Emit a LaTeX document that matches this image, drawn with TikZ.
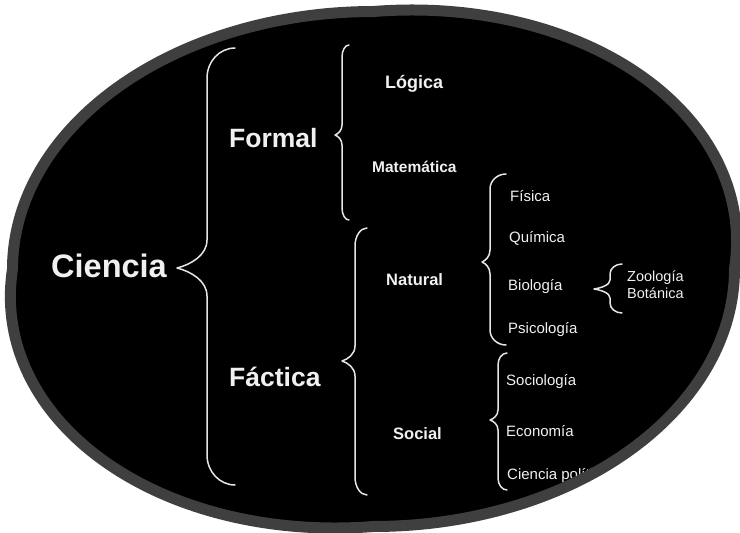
\documentclass[tikz,border=0pt]{standalone}
\usepackage{fontspec}
\setmainfont{Liberation Sans}
\definecolor{rimgray}{HTML}{3F3F3F}
\definecolor{txtwhite}{HTML}{F0F0F0}
\definecolor{bracewhite}{HTML}{E6E6E6}
\tikzset{
  bracestyle/.style={draw=bracewhite, line width=1.5pt, line cap=round, line join=round},
  ovalpath/.style={insert path={plot[domain=0:359, samples=360, variable=\t]
     ({373.5+361*cos(\t)*(1+0.055*max(0,-sin(2*\t)))},
      {269+257.5*sin(\t)*(1+0.055*max(0,-sin(2*\t)))}) -- cycle}},
  lbl/.style={text=txtwhite, anchor=base west, inner sep=0pt},
  lvlone/.style={lbl, font=\fontsize{32.5}{32.5}\selectfont\bfseries},
  lvltwo/.style={lbl, font=\fontsize{26.5}{26.5}\selectfont\bfseries},
  lvlthree/.style={lbl, font=\fontsize{16.5}{16.5}\selectfont\bfseries},
  lvlfour/.style={lbl, font=\fontsize{15}{15}\selectfont},
  lvlfive/.style={lbl, font=\fontsize{14.5}{14.5}\selectfont},
}
% xe, yt, yb, xv, xt, ym, r_end, r_tip
\newcommand{\curlybr}[8]{%
  \draw[bracestyle] (#1,#2) .. controls ({#1+0.552*(#4-#1)},#2) and (#4,{#2+0.448*#7}) .. (#4,{#2+#7})
    -- (#4,{#6-#8}) .. controls (#4,{#6-0.45*#8}) and ({#5+0.45*(#4-#5)},{#6-0.12*#8}) .. (#5,#6)
    .. controls ({#5+0.45*(#4-#5)},{#6+0.12*#8}) and (#4,{#6+0.45*#8}) .. (#4,{#6+#8})
    -- (#4,{#3-#7}) .. controls (#4,{#3-0.448*#7}) and ({#1+0.552*(#4-#1)},#3) .. (#1,#3);}
\begin{document}
\begin{tikzpicture}[x=1pt,y=-1pt]
\useasboundingbox (0,0) rectangle (740,533);
\fill[white] (0,0) rectangle (740,533);
\fill[black] [ovalpath];
\begin{scope}
\clip [ovalpath];
\node[lvlone] (ciencia) at (51,277) {Ciencia};
\node[lvltwo] (formal) at (229,147) {Formal};
\node[lvltwo] (factica) at (229,386) {Fáctica};
\node[lbl, font=\fontsize{18}{18}\selectfont\bfseries] (logica) at (385,88) {Lógica};
\node[lbl, font=\fontsize{15.5}{15.5}\selectfont\bfseries] (matematica) at (372,172) {Matemática};
\node[lvlthree] (natural) at (386,285.5) {Natural};
\node[lvlthree] (social) at (393,439) {Social};
\node[lvlfour] (fisica) at (510,201.5) {Física};
\node[lvlfour] (quimica) at (509,242.5) {Química};
\node[lvlfour] (biologia) at (508,290) {Biología};
\node[lvlfour] (psicologia) at (508,333) {Psicología};
\node[lvlfour] (sociologia) at (506,385) {Sociología};
\node[lvlfour] (economia) at (506,436.5) {Economía};
\node[lvlfour] (cpolitica) at (507,479.5) {Ciencia política};
\node[lvlfive] (zoologia) at (627,281) {Zoología};
\node[lvlfive] (botanica) at (627,298) {Botánica};
\curlybr{235}{48}{485}{207}{177}{268}{30}{28}
\curlybr{349}{45}{220}{342}{335}{135}{12}{10}
\curlybr{367}{228}{495}{355}{342}{361}{18}{15}
\curlybr{506}{174}{345}{490}{482}{262}{15}{12}
\curlybr{507}{353}{490}{498}{490}{420}{12}{10}
\curlybr{622}{264}{313}{610}{594}{289}{10}{9}
\end{scope}
\draw[rimgray, line width=11pt] [ovalpath];
\end{tikzpicture}
\end{document}
